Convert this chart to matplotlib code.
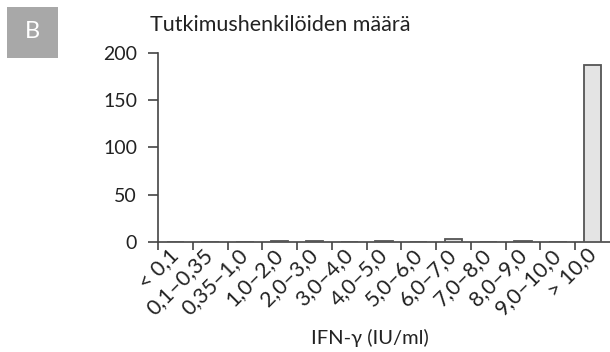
import matplotlib
matplotlib.use("Agg")
import matplotlib.pyplot as plt
from matplotlib.patches import Rectangle
from matplotlib.transforms import ScaledTranslation

categories = ["< 0,1", "0,1–0,35", "0,35–1,0", "1,0–2,0", "2,0–3,0", "3,0–4,0",
              "4,0–5,0", "5,0–6,0", "6,0–7,0", "7,0–8,0", "8,0–9,0", "9,0–10,0", "> 10,0"]
counts = [0, 0, 0, 1, 1, 0, 1, 0, 3, 0, 1, 0, 187]
yticks = [0, 50, 100, 150, 200]

plt.rcParams['font.family'] = ['Lato', 'DejaVu Sans']
txt = '#222222'
axc = '#444444'

fig = plt.figure(figsize=(6.10, 3.52), dpi=100)
ax = fig.add_axes([0.259, 0.3125, 0.741, 0.5375])

x = [i + 0.5 for i in range(len(categories))]
ax.bar(x, counts, width=0.5, color='#e4e4e4', edgecolor='#555555', linewidth=1.3, zorder=3)

ax.set_xlim(0, len(categories))
ax.set_ylim(0, 200)
ax.set_yticks(yticks)
ax.set_yticklabels([str(v) for v in yticks], fontsize=14, color=txt)

ax.set_xticks(range(len(categories)))
ax.set_xticklabels([])
ax.set_xticks(x, minor=True)
ax.set_xticklabels(categories, minor=True, rotation=45, ha='right', va='center',
                   rotation_mode='anchor', fontsize=15.5, color=txt)
off = ScaledTranslation(10/100, 0, fig.dpi_scale_trans)
for lab in ax.get_xticklabels(minor=True):
    lab.set_transform(lab.get_transform() + off)
ax.tick_params(axis='x', which='minor', length=0, pad=7)
ax.tick_params(axis='x', which='major', length=6, width=1.2, color=axc, direction='out')
ax.tick_params(axis='y', length=7, width=1.2, color=axc, pad=8)

for s in ['top', 'right']:
    ax.spines[s].set_visible(False)
for s in ['left', 'bottom']:
    ax.spines[s].set_color(axc)
    ax.spines[s].set_linewidth(1.2)

ax.set_xlabel("IFN-γ (IU/ml)", fontsize=14.5, color=txt, labelpad=2)
ax.xaxis.set_label_coords(370/610, 1-338/352, transform=fig.transFigure)
ax.xaxis.label.set_va('center')
fig.text(150/610, 1-25/352, "Tutkimushenkilöiden määrä", fontsize=15.5, color=txt, ha='left', va='center')

fig.patches.append(Rectangle((7/610, 1-58/352), 51/610, 51/352, transform=fig.transFigure,
                             facecolor='#a8a8a8', edgecolor='none'))
fig.text(32/610, 1-32/352, "B", fontsize=17, color='white', ha='center', va='center')

fig.savefig("out.png", dpi=100)
